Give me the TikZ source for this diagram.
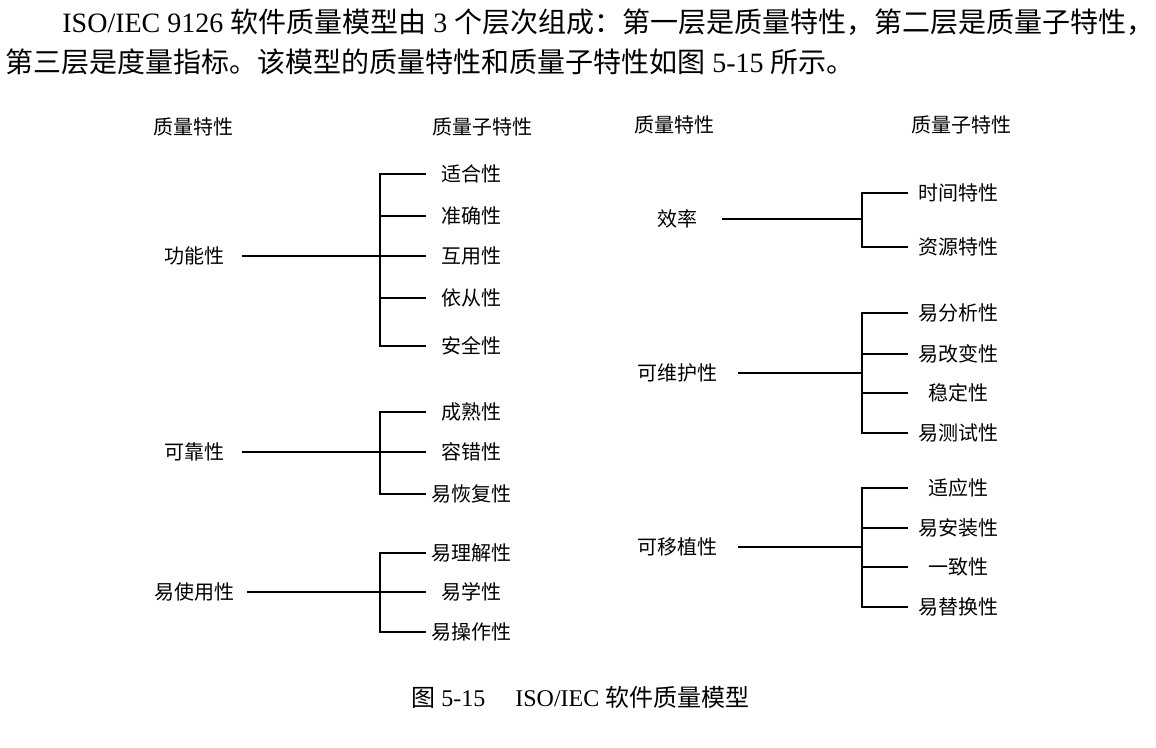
\documentclass[tikz,border=0pt]{standalone}
\usepackage{fontspec}
\setmainfont{Liberation Serif}
\newfontfamily\cjk{Noto Sans CJK SC}
\newfontfamily\lat{Liberation Serif}
\begin{document}
\begin{tikzpicture}[x=0.5pt,y=-0.5pt,
  lbl/.style={font=\cjk\fontsize{10pt}{12pt}\selectfont, inner sep=0pt},
  head/.style={lbl},
  parent/.style={lbl, minimum width=#1},
  child/.style={lbl, minimum width=#1},
  para/.style={font=\cjk\fontsize{14pt}{16pt}\selectfont, inner sep=0pt, anchor=west},
  link/.style={line width=1pt}]
\useasboundingbox[fill=white] (0,0) rectangle (1156,748);

% paragraph
\node[para] (t1) at (62,22) {{\lat ISO/IEC 9126 }软件质量模型由{\lat\ 3 }个层次组成：第一层是质量特性，第二层是质量子特性，};
\node[para] (t2) at (5,62) {第三层是度量指标。该模型的质量特性和质量子特性如图{\lat\ 5-15 }所示。};

% headers
\node[head] (h1) at (193,127) {质量特性};
\node[head] (h2) at (482,127) {质量子特性};
\node[head] (h3) at (674,125) {质量特性};
\node[head] (h4) at (961,125) {质量子特性};

% ---- group: 功能性
\node[parent=48pt] (f) at (194,256) {功能性};
\node[child=45pt] (f1) at (471,174) {适合性};
\node[child=45pt] (f2) at (471,216) {准确性};
\node[child=45pt] (f3) at (471,256) {互用性};
\node[child=45pt] (f4) at (471,298) {依从性};
\node[child=45pt] (f5) at (471,346) {安全性};
\coordinate (fJ) at (380,256);
\draw[link] (f.east) -- (f3.west);
\draw[link] (f1.west) -- (f1.west -| fJ) -- (f5.west -| fJ) -- (f5.west);
\draw[link] (f2.west) -- (f2.west -| fJ);
\draw[link] (f4.west) -- (f4.west -| fJ);

% ---- group: 可靠性
\node[parent=48pt] (r) at (194,452) {可靠性};
\node[child=45pt] (r1) at (471,412) {成熟性};
\node[child=45pt] (r2) at (471,452) {容错性};
\node[child=45pt] (r3) at (471,494) {易恢复性};
\coordinate (rJ) at (380,452);
\draw[link] (r.east) -- (r2.west);
\draw[link] (r1.west) -- (r1.west -| rJ) -- (r3.west -| rJ) -- (r3.west);

% ---- group: 易使用性
\node[parent=53pt] (u) at (194,592) {易使用性};
\node[child=45pt] (u1) at (471,553) {易理解性};
\node[child=45pt] (u2) at (471,592) {易学性};
\node[child=45pt] (u3) at (471,632) {易操作性};
\coordinate (uJ) at (380,592);
\draw[link] (u.east) -- (u2.west);
\draw[link] (u1.west) -- (u1.west -| uJ) -- (u3.west -| uJ) -- (u3.west);

% ---- group: 效率
\node[parent=45pt] (e) at (677,219) {效率};
\node[child=50pt] (e1) at (958,193) {时间特性};
\node[child=50pt] (e2) at (958,247) {资源特性};
\coordinate (eJ) at (862,219);
\draw[link] (e.east) -- (eJ);
\draw[link] (e1.west) -- (e1.west -| eJ) -- (e2.west -| eJ) -- (e2.west);

% ---- group: 可维护性
\node[parent=61pt] (m) at (677,373) {可维护性};
\node[child=50pt] (m1) at (958,313) {易分析性};
\node[child=50pt] (m2) at (958,354) {易改变性};
\node[child=50pt] (m3) at (958,393) {稳定性};
\node[child=50pt] (m4) at (958,433) {易测试性};
\coordinate (mJ) at (862,373);
\draw[link] (m.east) -- (mJ);
\draw[link] (m1.west) -- (m1.west -| mJ) -- (m4.west -| mJ) -- (m4.west);
\draw[link] (m2.west) -- (m2.west -| mJ);
\draw[link] (m3.west) -- (m3.west -| mJ);

% ---- group: 可移植性
\node[parent=61pt] (p) at (677,547) {可移植性};
\node[child=50pt] (p1) at (958,488) {适应性};
\node[child=50pt] (p2) at (958,528) {易安装性};
\node[child=50pt] (p3) at (958,567) {一致性};
\node[child=50pt] (p4) at (958,607) {易替换性};
\coordinate (pJ) at (862,547);
\draw[link] (p.east) -- (pJ);
\draw[link] (p1.west) -- (p1.west -| pJ) -- (p4.west -| pJ) -- (p4.west);
\draw[link] (p2.west) -- (p2.west -| pJ);
\draw[link] (p3.west) -- (p3.west -| pJ);

% caption
\node[font=\cjk\fontsize{12pt}{14pt}\selectfont, inner sep=0pt, anchor=west] (cap) at (411,697) {图{\lat\ 5-15}\hspace{15pt}{\lat ISO/IEC }软件质量模型};
\end{tikzpicture}
\end{document}
